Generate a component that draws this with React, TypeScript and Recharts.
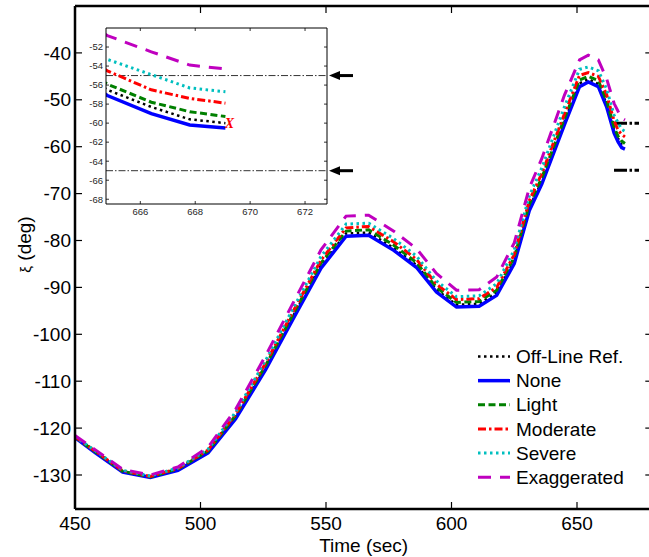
import React from 'react';
import { LineChart, Line, XAxis, YAxis, ReferenceLine, ReferenceDot, Legend, CartesianGrid } from 'recharts';

const times = [450, 458, 469, 480, 491, 503, 514, 526, 537, 548, 558, 567, 577, 586, 594, 602, 611, 618, 625, 631, 636, 645, 651, 654.5, 658.5, 661.8, 664.8, 666.4, 667.8, 669.1];
const offLineRef = [-121.9, -125, -129.2, -130.4, -128.8, -125, -117.6, -107, -96, -85.3, -78.5, -78.3, -81.6, -85.2, -90.5, -93.7, -93.5, -91.1, -84.3, -73, -67.3, -54.7, -46.5, -45.6, -46.6, -50.9, -56.5, -58.3, -59.6, -60.0];
const none = [-122, -125.2, -129.4, -130.5, -129, -125.3, -118, -107.5, -96.6, -85.9, -79.1, -78.9, -82.1, -85.7, -91, -94.2, -94, -91.7, -84.9, -73.6, -67.9, -55.3, -47.2, -46.2, -47.2, -51.5, -57.1, -59.0, -60.2, -60.5];
const light = [-121.9, -125, -129.2, -130.4, -128.7, -124.9, -117.3, -106.6, -95.6, -84.8, -78, -77.7, -81, -84.7, -90, -93.2, -93, -90.6, -83.6, -72.3, -66.6, -54, -45.8, -45.0, -45.9, -50.2, -55.9, -57.8, -58.8, -59.3];
const moderate = [-121.8, -124.9, -129.1, -130.3, -128.6, -124.7, -117, -106.1, -95, -84.2, -77.3, -77, -80.3, -84, -89.3, -92.6, -92.4, -90, -83, -71.5, -65.7, -53, -44.8, -44.2, -45.0, -48.9, -54.5, -56.5, -57.4, -57.9];
const severe = [-121.8, -124.8, -129, -130.2, -128.5, -124.5, -116.6, -105.5, -94.4, -83.4, -76.5, -76.3, -79.6, -83.3, -88.6, -92, -91.8, -89.2, -82, -70.5, -64.5, -51.5, -43.5, -43.0, -43.8, -47.7, -53.3, -54.9, -56.3, -56.7];
const exaggerated = [-121.6, -124.6, -128.8, -130, -128.3, -124.1, -116, -104.5, -93.2, -82, -74.8, -74.6, -78, -81.7, -87, -90.6, -90.5, -87.8, -80.5, -68.8, -62.5, -49, -41.5, -40.5, -41.5, -45.5, -50.8, -52.5, -53.9, -54.3];

const seriesLabels = ['Off-Line Ref.', 'None', 'Light', 'Moderate', 'Severe', 'Exaggerated'];
const xTicks = [450, 500, 550, 600, 650];
const yTicks = [-130, -120, -110, -100, -90, -80, -70, -60, -50, -40];
const insetXTicks = [666, 668, 670, 672];
const insetYTicks = [-68, -66, -64, -62, -60, -58, -56, -54, -52];
const markerLevels = [-55, -65];
const markerStart = 664.75;
const markerEnd = 674.7;
const endMark = { t: 669.25, v: -60, text: 'X' };

const xDomain = [450, 680];
const yDomain = [-137.25, -30];
const insetXDomain = [664.75, 672.8];
const insetYDomain = [-68.5, -50];

const data = times.map((t, i) => ({
  t,
  offLine: offLineRef[i],
  none: none[i],
  light: light[i],
  moderate: moderate[i],
  severe: severe[i],
  exaggerated: exaggerated[i],
}));

const FONT = '"Liberation Sans", Arial, Helvetica, sans-serif';

// layout (pixels, local to each chart's svg)
const MAIN_TOP = 6;
const INSET_TOP = 8;

const seriesStyles = [
  { key: 'offLine', color: '#000000', dash: '2.5 3.5', width: 2.5 },
  { key: 'none', color: '#0000FF', dash: undefined as string | undefined, width: 3.5 },
  { key: 'light', color: '#008000', dash: '7 3.5', width: 3 },
  { key: 'moderate', color: '#FF0000', dash: '8 3 2.5 3', width: 3 },
  { key: 'severe', color: '#00BFBF', dash: '2.5 3.5', width: 3 },
  { key: 'exaggerated', color: '#BF00BF', dash: '13 9', width: 3 },
];

type Side = 'bottom' | 'left' | 'right';
function makeTick(side: Side, len: number, label?: { size: number; gap: number; color: string }, topY?: number, sw: number = 1.2) {
  return (props: any) => {
    const { x, y, payload } = props;
    let ln: any = null;
    let ln2: any = null;
    let tx: any = null;
    if (side === 'bottom') {
      ln = <line x1={x} x2={x} y1={y} y2={y - len} stroke="#000" strokeWidth={sw} />;
      if (topY !== undefined) ln2 = <line x1={x} x2={x} y1={topY} y2={topY + len} stroke="#000" strokeWidth={sw} />;
      if (label) tx = <text x={x} y={y + label.gap} textAnchor="middle" fontSize={label.size} fill={label.color} fontFamily={FONT}>{payload.value}</text>;
    } else if (side === 'left') {
      ln = <line x1={x} x2={x + len} y1={y} y2={y} stroke="#000" strokeWidth={sw} />;
      if (label) tx = <text x={x - label.gap} y={y + label.size * 0.35} textAnchor="end" fontSize={label.size} fill={label.color} fontFamily={FONT}>{payload.value}</text>;
    } else {
      ln = <line x1={x} x2={x - len} y1={y} y2={y} stroke="#000" strokeWidth={sw} />;
    }
    return <g>{ln}{ln2}{tx}</g>;
  };
}

const XTitle = (props: any) => {
  const vb = props.viewBox || { x: 0, y: 0, width: 0, height: 0 };
  return (
    <text x={vb.x + vb.width / 2} y={vb.y + 43} textAnchor="middle" fontSize={19} fontFamily={FONT} fill="#000">Time (sec)</text>
  );
};

const YTitle = (props: any) => {
  const vb = props.viewBox || { x: 0, y: 0, width: 0, height: 0 };
  const cx = vb.x + 16;
  const cy = vb.y + vb.height / 2 - 13;
  return (
    <text x={cx} y={cy} transform={`rotate(-90 ${cx} ${cy})`} textAnchor="middle" fontSize={19} fontFamily={FONT} fill="#000">
      <tspan fontSize={15}>ξ</tspan>
      <tspan> (deg)</tspan>
    </text>
  );
};

const renderLegend = () => (
  <svg width={180} height={150} style={{ display: 'block' }}>
    {seriesStyles.map((s, i) => {
      const cy = 16.5 + i * 24.15;
      return (
        <g key={s.key}>
          <line x1={8} x2={40} y1={cy} y2={cy} stroke={s.color} strokeWidth={s.width} strokeDasharray={s.dash} />
          <text x={46} y={cy + 6.6} fontSize={19} fontFamily={FONT} fill="#000">{seriesLabels[i]}</text>
        </g>
      );
    })}
  </svg>
);

const ArrowLine = (props: any) => {
  const { x1, y1, x2, y2 } = props;
  const tip = x2 + 2;
  return (
    <g>
      <line x1={x1} y1={y1} x2={x2} y2={y2} stroke="#333" strokeWidth={1} strokeDasharray="7 2 1.5 2" />
      <path d={`M${tip},${y2} L${tip + 11},${y2 - 4.5} L${tip + 11},${y2 + 4.5} Z`} fill="#000" />
      <line x1={tip + 10} x2={tip + 24} y1={y2} y2={y2} stroke="#000" strokeWidth={3} />
    </g>
  );
};

const XMark = (props: any) => (
  <text x={props.cx} y={props.cy + 4.5} textAnchor="middle" fontSize={14} fontWeight="bold" fontStyle="italic" fontFamily='"Liberation Serif", "Times New Roman", serif' fill="#FF0000">{endMark.text}</text>
);

const renderLines = (prefix: string) =>
  seriesStyles.map((s) => (
    <Line
      key={prefix + s.key}
      type="linear"
      dataKey={s.key}
      name={s.key}
      stroke={s.color}
      strokeWidth={s.width}
      strokeDasharray={s.dash}
      dot={false}
      activeDot={false}
      isAnimationActive={false}
    />
  ));

export default function App() {
  const axisStroke = { stroke: '#000', strokeWidth: 2.5 };
  const insetAxis = { stroke: '#000', strokeWidth: 1 };
  return (
    <div style={{ position: 'absolute', left: 0, top: 0, width: 649, height: 557, overflow: 'hidden', background: '#fff', fontFamily: FONT }}>
      <LineChart width={700} height={557} data={data} margin={{ top: 1, right: 42.7, bottom: 18, left: 15 }}>
        <XAxis dataKey="t" type="number" domain={xDomain} ticks={xTicks} interval={0} allowDataOverflow height={30} tickSize={0} tickMargin={0} tickLine={false} axisLine={axisStroke} tick={makeTick('bottom', 7, { size: 19, gap: 21, color: '#000' }, MAIN_TOP)} label={<XTitle />} />
        <XAxis xAxisId="top" orientation="top" type="number" domain={xDomain} ticks={xTicks} interval={0} allowDataOverflow height={5} tickSize={0} tickMargin={0} tickLine={false} axisLine={axisStroke} tick={false} />
        <YAxis type="number" domain={yDomain} ticks={yTicks} interval={0} allowDataOverflow width={60} tickSize={0} tickMargin={0} tickLine={false} axisLine={axisStroke} tick={makeTick('left', 7, { size: 19, gap: 4, color: '#000' })} label={<YTitle />} />
        <YAxis yAxisId="right" orientation="right" type="number" domain={yDomain} ticks={yTicks} interval={0} allowDataOverflow width={5} tickSize={0} tickMargin={0} tickLine={false} axisLine={axisStroke} tick={makeTick('right', 7)} />
        {markerLevels.map((v) => (
          <ReferenceLine key={'m' + v} segment={[{ x: markerStart, y: v }, { x: markerEnd, y: v }]} stroke="#000" strokeWidth={3} strokeDasharray="13 2.5 2.5 2.5" ifOverflow="visible" />
        ))}
        {renderLines('main')}
        <Legend layout="horizontal" verticalAlign="middle" align="center" content={renderLegend} wrapperStyle={{ left: 470, top: 340, width: 180, height: 150 }} />
      </LineChart>

      <div style={{ position: 'absolute', left: 60, top: 20, width: 300, height: 205 }}>
        <LineChart width={300} height={205} data={data} margin={{ top: 7, right: 32, bottom: 1, left: 0 }}>
          <CartesianGrid horizontal={false} vertical={false} fill="#fff" />
          <XAxis dataKey="t" type="number" domain={insetXDomain} ticks={insetXTicks} interval={0} allowDataOverflow height={20} tickSize={0} tickMargin={0} tickLine={false} axisLine={insetAxis} tick={makeTick('bottom', 3, { size: 9.5, gap: 10.5, color: '#262626' }, INSET_TOP, 0.8)} />
          <XAxis xAxisId="top" orientation="top" type="number" domain={insetXDomain} ticks={insetXTicks} interval={0} allowDataOverflow height={1} tickSize={0} tickMargin={0} tickLine={false} axisLine={insetAxis} tick={false} />
          <YAxis type="number" domain={insetYDomain} ticks={insetYTicks} interval={0} allowDataOverflow width={46} tickSize={0} tickMargin={0} tickLine={false} axisLine={insetAxis} tick={makeTick('left', 3, { size: 9.5, gap: 3, color: '#262626' }, undefined, 0.8)} />
          <YAxis yAxisId="right" orientation="right" type="number" domain={insetYDomain} ticks={insetYTicks} interval={0} allowDataOverflow width={1} tickSize={0} tickMargin={0} tickLine={false} axisLine={insetAxis} tick={makeTick('right', 3, undefined, undefined, 0.8)} />
          {markerLevels.map((v) => (
            <ReferenceLine key={'i' + v} y={v} shape={(p: any) => <ArrowLine {...p} />} />
          ))}
          {renderLines('inset')}
          <ReferenceDot x={endMark.t} y={endMark.v} shape={(p: any) => <XMark {...p} />} />
        </LineChart>
      </div>
    </div>
  );
}
